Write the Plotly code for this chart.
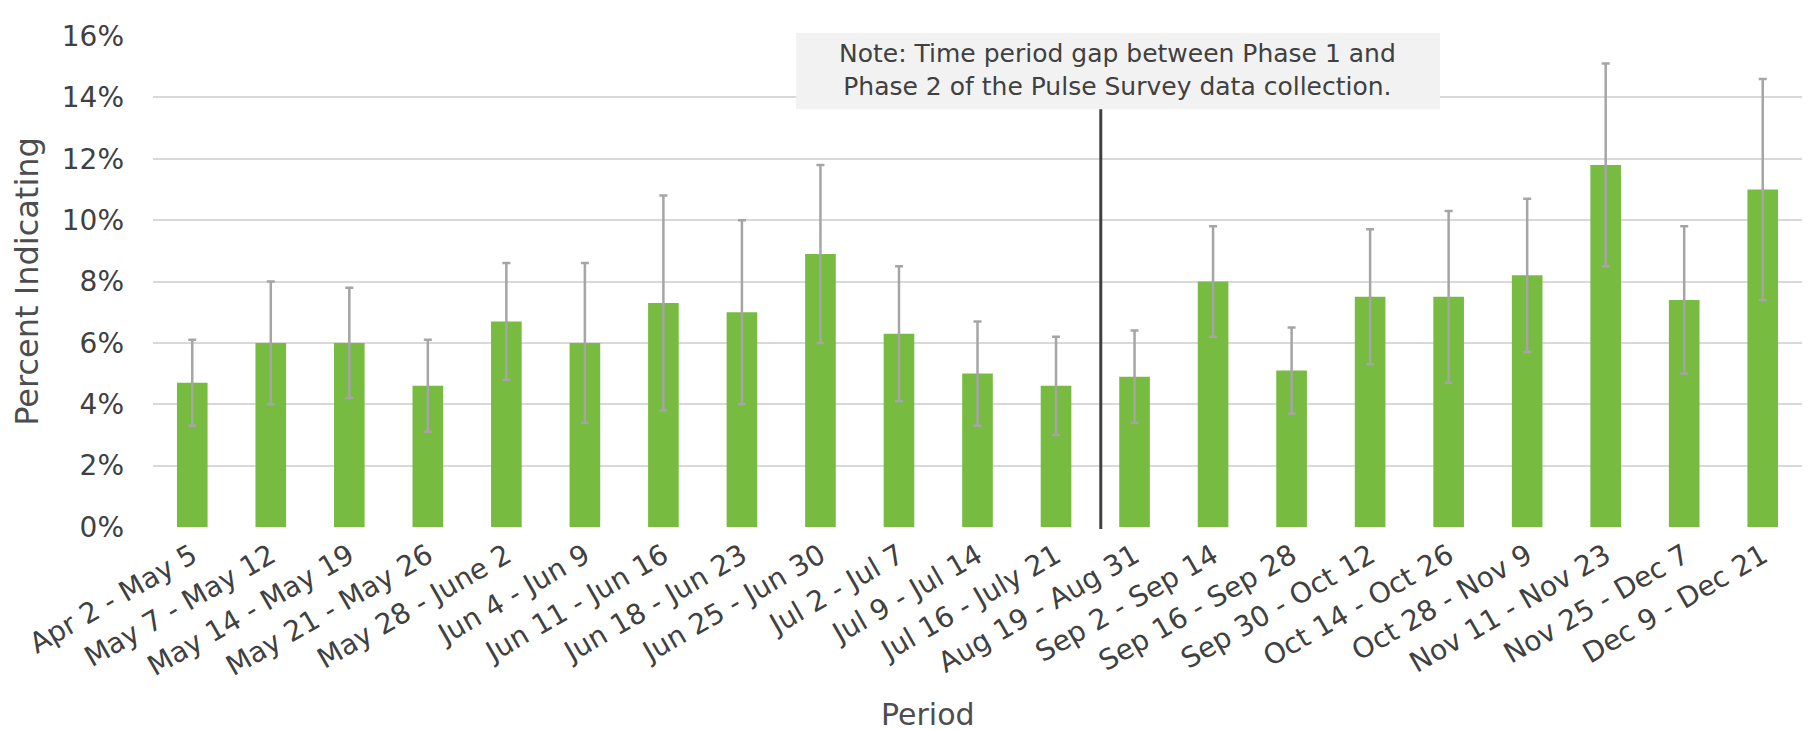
import plotly.graph_objects as go

periods = ["Apr 2 - May 5", "May 7 - May 12", "May 14 - May 19", "May 21 - May 26",
           "May 28 - June 2", "Jun 4 - Jun 9", "Jun 11 - Jun 16", "Jun 18 - Jun 23",
           "Jun 25 - Jun 30", "Jul 2 - Jul 7", "Jul 9 - Jul 14", "Jul 16 - July 21",
           "Aug 19 - Aug 31", "Sep 2 - Sep 14", "Sep 16 - Sep 28", "Sep 30 - Oct 12",
           "Oct 14 - Oct 26", "Oct 28 - Nov 9", "Nov 11 - Nov 23", "Nov 25 - Dec 7",
           "Dec 9 - Dec 21"]
percent = [4.7, 6.0, 6.0, 4.6, 6.7, 6.0, 7.3, 7.0, 8.9, 6.3, 5.0, 4.6,
           4.9, 8.0, 5.1, 7.5, 7.5, 8.2, 11.8, 7.4, 11.0]
upper_ci = [6.1, 8.0, 7.8, 6.1, 8.6, 8.6, 10.8, 10.0, 11.8, 8.5, 6.7, 6.2,
            6.4, 9.8, 6.5, 9.7, 10.3, 10.7, 15.1, 9.8, 14.6]
lower_ci = [3.3, 4.0, 4.2, 3.1, 4.8, 3.4, 3.8, 4.0, 6.0, 4.1, 3.3, 3.0,
            3.4, 6.2, 3.7, 5.3, 4.7, 5.7, 8.5, 5.0, 7.4]
y_ticks = [0, 2, 4, 6, 8, 10, 12, 14, 16]
y_tick_labels = [f"{v}%" for v in y_ticks]
note_text = "Note: Time period gap between Phase 1 and<br>Phase 2 of the Pulse Survey data collection."

err_plus = [u - v for u, v in zip(upper_ci, percent)]
err_minus = [v - l for v, l in zip(percent, lower_ci)]

FONT = "DejaVu Sans"
TXT = "#4d4d4d"

fig = go.Figure()
fig.add_trace(go.Bar(
    x=periods, y=percent,
    marker=dict(color="#77bb41", line=dict(width=0)),
    error_y=dict(type="data", symmetric=False, array=err_plus, arrayminus=err_minus,
                 color="#a5a5a5", thickness=2.5, width=4),
    showlegend=False,
))

# Note box
fig.add_shape(type="rect", xref="paper", yref="paper",
              x0=0.390, x1=0.7805, y0=0.851, y1=1.006,
              fillcolor="#f2f2f2", line=dict(width=0), layer="above")
fig.add_annotation(xref="paper", yref="paper", x=0.585, y=0.930,
                   text=note_text, showarrow=False, align="center",
                   font=dict(family=FONT, size=25, color="#404040"),
                   xanchor="center", yanchor="middle")
# Phase divider line
fig.add_shape(type="line", xref="x", yref="paper",
              x0=11.57, x1=11.57, y0=-0.004, y1=0.851,
              line=dict(color="#404040", width=3), layer="above")

fig.add_annotation(xref="paper", yref="paper", x=0.470, y=-0.3815,
                   text="Period", showarrow=False,
                   font=dict(family=FONT, size=30, color=TXT),
                   xanchor="center", yanchor="middle")

fig.update_layout(
    width=1812, height=729,
    margin=dict(l=145, r=18, t=21, b=210),
    plot_bgcolor="white", paper_bgcolor="white",
    bargap=0.61,
    font=dict(family=FONT, color=TXT),
    xaxis=dict(tickangle=-30, tickfont=dict(size=28, color="#404040"),
               showgrid=False, showline=False, zeroline=False,
               ticklabelstandoff=6),
    yaxis=dict(range=[0, 16], tickvals=y_ticks, ticktext=y_tick_labels,
               tickfont=dict(size=28, color="#404040"),
               showgrid=True, gridcolor="#d9d9d9", gridwidth=1.5,
               zeroline=False, showline=False, ticklabelstandoff=28,
               title=dict(text="Percent Indicating", standoff=16,
                          font=dict(size=32, color=TXT))),
)

fig.write_html("out.html")
